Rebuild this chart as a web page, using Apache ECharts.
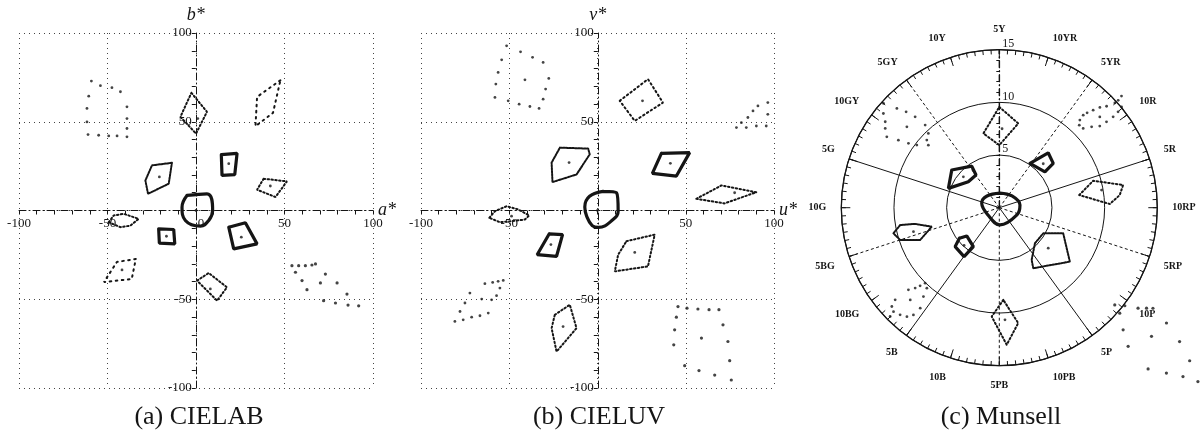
<!DOCTYPE html>
<html><head><meta charset="utf-8">
<script src="https://cdn.jsdelivr.net/npm/echarts@6/dist/echarts.min.js"></script>
<style>html,body{margin:0;padding:0;background:#fff}#c{width:1203px;height:432px}</style>
</head><body><div id="c"></div>
<script>
// ---------- Panel (a) CIELAB : [a*, b*] ----------
const labCenter = [[-5.1,8.5],[6.2,9.4],[9.4,0],[7.2,-5.6],[2.5,-8.8],[-6,-5.6],[-7.9,1.9]];
const labYR = [[14.3,31.5],[23.2,32.2],[21.9,20.2],[14.7,19.8]];
const labGY = [[-13.6,26.9],[-24.9,25.4],[-28.6,16.9],[-27.1,9.4],[-15.4,15.1]];
const labR = [[38.2,17.9],[51.4,16.4],[44.9,7.6],[34.5,11.7]];
const labB = [[-21.1,-10.3],[-12.6,-10.7],[-12,-18.8],[-20.7,-18.4]];
const labP = [[18.5,-9.4],[27.9,-6.9],[34.5,-18.8],[21.3,-21.6]];
const labPB = [[0.6,-39.5],[7.2,-35.2],[17.5,-43.3],[11.9,-50.8]];
const labBG = [[-49.3,-6.6],[-46.5,-2.8],[-40.8,-1.9],[-32.4,-4.7],[-37,-8.5],[-42.7,-9.4]];
const labY = [[-2.6,66.3],[6.2,55.6],[0,43.3],[-8.8,52.8]];
const labYRhigh = [[47.7,73.4],[34.5,64],[33.6,47.5],[43.5,55]];
const labBGhigh = [[-34,-27.3],[-44.7,-29],[-52,-40.3],[-36.3,-38.6]];
const labCentres = [[18.5,26.4],[-20.7,18.9],[42,13.8],[-16.7,-14.5],[25.6,-15],[8.1,-44.2],[1,51.8],[-41.8,-33.5],[0,0]];
const labGYdots = [[-59.1,72.9],[-54,70.3],[-47.5,69.2],[-42.7,66.9],[-60.6,64.4],[-39,58.4],[-61.6,57.5],[-39,51.8],
  [-61.6,49.9],[-39,46.2],[-61,42.8],[-55,42.4],[-49.3,42],[-44.6,42],[-39,41.5]];
const labPdots = [[54.2,-31.1],[58,-31.1],[61.8,-31.1],[65.5,-30.7],[67.5,-30.1],[56.2,-34.8],[59.9,-39.5],[62.7,-44.6],
  [73.1,-35.8],[70.3,-40.8],[79.7,-40.8],[72.1,-50.8],[78.8,-52.1],[85.3,-47.1],[85.9,-53.3],[91.9,-53.7]];

// ---------- Panel (b) CIELUV : [u*, v*] ----------
const luvCenter = [[3.2,10.8],[10.8,10],[11.7,-0.4],[8.8,-5.1],[0.5,-9.5],[-3,-8.5],[-6.2,-3],[-7.2,2],[-4.5,8]];
const luvGY = [[-21.3,35.4],[-5.3,34.9],[-4.4,31.6],[-11.9,20.3],[-25.5,16],[-26,27]];
const luvYR = [[36.2,32.2],[52.2,32.6],[44.7,19.4],[31.1,20.9]];
const luvR = [[56,6.6],[70.2,14.1],[90,10.3],[72,4]];
const luvBG = [[-61.3,-4.1],[-58.1,-0.4],[-51.5,2.4],[-44.9,0.6],[-38.7,-2.8],[-41.1,-5.1],[-48.7,-6],[-55.3,-6.6]];
const luvB = [[-27.4,-13.2],[-19.8,-13.6],[-23.2,-25.8],[-34.2,-24.9]];
const luvP = [[16.4,-17.3],[32.4,-13.6],[28.6,-31.5],[9.8,-34.3],[11.7,-24.9]];
const luvY = [[12.6,61.8],[28.6,74],[37.1,60.8],[21.1,50.5]];
const luvPB = [[-24.2,-58.8],[-15.7,-53.1],[-11.9,-66.3],[-23.2,-79.5],[-26,-66.3]];
const luvCentres = [[-16.1,27],[41.3,26.6],[77.7,10],[-48.7,-3.2],[-26.4,-19.2],[21.1,-23.6],[25.5,61.8],[-19.5,-65.4],[0,0]];
const luvGYdots = [[-51.5,92.8],[-43.6,89.4],[-36.8,86.3],[-30.8,83.4],[-54.3,84.9],[-56.3,77.8],[-57.6,71.2],[-41.1,73.6],
  [-27.6,74.4],[-29.4,68.4],[-58.1,63.7],[-50.6,61.8],[-44.4,59.9],[-38.3,58.6],[-33.1,57.5],[-30.8,62.7]];
const luvRdots = [[96.5,60.8],[90.9,58.9],[88.1,56.1],[85.2,52.4],[81.5,49.5],[78.7,46.7],[84.3,46.7],[90,47.6],[95.6,47.6],[96.5,54.2]];
const luvBGdots = [[-53.4,-39.4],[-56.3,-39.9],[-59.4,-40.5],[-63.8,-41.2],[-55.3,-43.7],[-57.2,-48],[-60,-50.3],[-61.9,-57.8],
  [-66.6,-59.3],[-71.3,-60.1],[-76.1,-61.6],[-80.8,-62.5],[-77.9,-56.9],[-75.1,-52.1],[-72.3,-46.5],[-65.6,-49.9]];
const luvPdots = [[45.6,-54.1],[50.7,-55],[56.9,-55.5],[63.2,-55.9],[68.8,-55.9],[44.7,-60.1],[43.7,-67.2],[43.2,-75.7],
  [71.1,-64.4],[73.9,-73.8],[74.9,-84.6],[75.8,-95.5],[49.4,-87.4],[57.5,-90.2],[66.4,-92.7],[58.9,-71.9]];
const cartTicks = [-100,-50,0,50,100];

// ---------- Panel (c) Munsell : [chroma, direction in degrees, counter-clockwise from 10RP] ----------
const hueLabels = ['5Y','10Y','5GY','10GY','5G','10G','5BG','10BG','5B','10B','5PB','10PB','5P','10P','5RP','10RP','5R','10R','5YR','10YR'];
const solidHueDirs = [18,162,234,306];
const dashedHueDirs = [54,126,198,270,342];
const mCenter = [[1.39,87.3],[1.64,42.7],[1.98,7.4],[1.81,-22.4],[1.64,-87.7],[1.28,-147.1],[1.73,165],[1.61,136.4]];
const mY = [[9.57,90],[8.2,77.3],[5.94,90],[7.21,102.1]];
const mYR = [[5.12,55.3],[6.98,48.3],[6.63,39.4],[5.51,38.2]];
const mGY = [[5.76,141.6],[4.74,123.5],[3.81,125.5],[3.84,140.0],[5.17,159.2]];
const mRP = [[7.68,9.0],[9.27,16.0],[11.95,10.4],[11.5,6.0],[10.5,1.9]];
const mBG = [[10.34,193.6],[9.55,189.9],[8.14,190.9],[6.66,195.7],[8.12,202.2],[9.9,198.0]];
const mB = [[4.77,217.4],[4.09,220.9],[4.44,236.3],[5.72,234.2],[5.59,221.4]];
const mP = [[4.78,-44.9],[4.83,-30.2],[6.53,-21.8],[8.43,-37.4],[6.59,-60.7],[5.83,-58.2]];
const mPB = [[8.76,-87.5],[10.36,-94.0],[13.03,-86.9],[11.1,-80.7]];
const mCentres = [[7.5,88],[5.9,45],[4.5,139.3],[9.85,9.8],[8.46,195.6],[6.03,-39.6],[10.66,-87.1],[4.9,227]];
const mGYdots = [[14.79,138.0],[13.54,135.9],[12.69,134.2],[11.76,132.8],[10.54,131.9],[14.18,140.9],[13.56,143.0],[13.19,145.2],
  [12.62,147.8],[11.53,146.2],[10.57,144.7],[9.83,142.8],[9.41,137.0],[8.98,138.6],[9.75,133.7],[11.66,138.8]];
const mRdots = [[15.71,42.4],[15.21,42.1],[14.81,42.2],[14.02,43.4],[13.48,44.9],[12.85,46.1],[12.27,47.2],[11.86,47.8],
  [11.3,47.4],[10.91,45.9],[10.96,43.4],[11.65,41.2],[12.29,39.1],[13.04,38.7],[13.83,38.6],[14.49,38.9],[15.04,39.5],[12.86,42.1]];
const mBGdots = [[10.05,225.5],[10.56,224.6],[11.05,223.7],[11.63,222.1],[10.28,228.0],[11.09,229.5],[12.14,231.8],[13.04,231.3],
  [13.56,229.7],[13.86,227.2],[14.08,224.5],[13.86,222.6],[13.2,221.5],[12.17,226.0],[14.63,224.9]];
const mPdots = [[14.33,-40.1],[15.2,-41.2],[15.12,-38.0],[16.26,-35.9],[16.92,-34.3],[17.43,-33.2],[19.28,-34.6],[16.51,-44.6],
  [18.92,-40.2],[21.32,-36.6],[17.97,-47.1],[23.19,-38.8],[20.83,-47.3],[22.32,-44.7],[23.69,-42.6],[25.06,-41.2]];
const chromaTicks = [0,5,10,15];
const hueLineLength = 16.2;

// ---------- build ----------
const INK = '#151515';
const SERIF = 'Liberation Serif';
const DOT = [1.5,2.4];
const SPARSE = [1.6,4.5];

function cartAxis(idx, name, vertical, showZero){
  return {
    type:'value', gridIndex:idx, min:cartTicks[0], max:cartTicks[cartTicks.length-1], interval:50,
    position: vertical ? 'left' : 'bottom', offset: vertical ? -176.8 : -177.5,
    name:name, nameLocation:'end', nameGap: vertical ? 9 : 5, nameMoveOverlap:false,
    nameTextStyle:{fontFamily:SERIF, fontStyle:'italic', fontSize:18, color:INK},
    axisLine:{onZero:false, lineStyle:{color:INK, width:1, type:[7,3,1,3]}},
    axisTick:{show:true, length:4, lineStyle:{color:INK}},
    minorTick:{show:true, splitNumber:5, length:4, lineStyle:{color:INK}},
    axisLabel:{fontFamily:SERIF, fontSize:13, color:INK, margin: vertical ? 4 : 7,
      formatter: v => v === 0 ? (showZero ? '{z|0}' : '') : String(v),
      rich:{z:{fontFamily:SERIF, fontSize:13, color:INK, padding:[0,0,0,10]}}},
    splitLine:{show:true, lineStyle:{type:[1,4], color:'#444', width:1}}
  };
}
function cartPoly(pts, idx, bold, dash, smooth){
  return {type:'line', xAxisIndex:idx, yAxisIndex:idx, data:pts.concat([pts[0]]), symbol:'none',
    smooth: smooth || false, silent:true, z:4,
    lineStyle:{color:INK, width: bold ? 3.2 : 2, type: bold ? 'solid' : (dash || DOT), cap:'round'}};
}
function cartDots(pts, idx, size){
  return {type:'scatter', xAxisIndex:idx, yAxisIndex:idx, data:pts, symbolSize:size||2.8, silent:true, z:5,
    itemStyle:{color:INK}};
}
const toAng = d => ((d - 90) % 360 + 360) % 360;
const polarData = pts => pts.map(p => [p[0], toAng(p[1])]);
function polPoly(pts, bold, dash, smooth){
  const d = polarData(pts);
  return {type:'line', coordinateSystem:'polar', polarIndex:0, data:d.concat([d[0]]), symbol:'none', smooth:smooth||false,
    silent:true, z:4, clip:false,
    lineStyle:{color:INK, width: bold ? 3.2 : 2, type: bold ? 'solid' : (dash || DOT), cap:'round'}};
}
function polDots(pts, size){
  return {type:'scatter', coordinateSystem:'polar', polarIndex:0, data:polarData(pts), symbolSize:size||2.8, silent:true, z:5,
    clip:false, itemStyle:{color:INK}};
}
function hueLine(dir, type, width){
  return {type:'line', coordinateSystem:'polar', polarIndex:0, data:[[0,toAng(dir)],[hueLineLength,toAng(dir)]], symbol:'none',
    silent:true, z:2, clip:false, lineStyle:{color:INK, width:width||1, type:type}};
}

const series = [
  cartPoly(labCenter,0,true,null,0.45), cartPoly(labYR,0,true), cartPoly(labGY,0,false,[1.8,1.2]),
  cartPoly(labR,0,false), cartPoly(labB,0,true), cartPoly(labP,0,true), cartPoly(labPB,0,false),
  cartPoly(labBG,0,false), cartPoly(labY,0,false), cartPoly(labYRhigh,0,false,SPARSE), cartPoly(labBGhigh,0,false,SPARSE),
  cartDots(labCentres,0), cartDots(labGYdots,0), cartDots(labPdots,0,3.2),
  cartPoly(luvCenter,1,true,null,0.45), cartPoly(luvGY,1,false,[1.8,1.2]), cartPoly(luvYR,1,true), cartPoly(luvR,1,false),
  cartPoly(luvBG,1,false), cartPoly(luvB,1,true), cartPoly(luvP,1,false), cartPoly(luvY,1,false,[1.5,3]),
  cartPoly(luvPB,1,false), cartDots(luvCentres,1), cartDots(luvGYdots,1), cartDots(luvRdots,1),
  cartDots(luvBGdots,1), cartDots(luvPdots,1,3.2)
];
solidHueDirs.forEach(d => series.push(hueLine(d,'solid',1)));
dashedHueDirs.forEach(d => series.push(hueLine(d,[3,2.5],1)));
series.push(hueLine(90,[7,3,1,3],1.2));
series.push(polPoly(mCenter,true,null,0.4), polPoly(mY,false), polPoly(mYR,true), polPoly(mGY,true),
  polPoly(mRP,false), polPoly(mBG,false,[1.8,1.2]), polPoly(mB,true), polPoly(mP,false,[1.8,1.2]), polPoly(mPB,false),
  polDots(mCentres), polDots(mGYdots), polDots(mRdots), polDots(mBGdots), polDots(mPdots,3.2));

const polarCentre = [999.3,207.7];
const option = {
  animation:false,
  backgroundColor:'#fff',
  grid:[
    {left:19, top:33, width:354, height:355, outerBoundsMode:'none'},
    {left:421, top:33, width:353, height:355, outerBoundsMode:'none'}
  ],
  xAxis:[cartAxis(0,'a*',false,true), cartAxis(1,'u*',false,false)],
  yAxis:[cartAxis(0,'b*',true,false), cartAxis(1,'v*',true,false)],
  polar:[{center:polarCentre, radius:158},{center:polarCentre, radius:158}],
  angleAxis:[
    {polarIndex:0, type:'value', min:0, max:360, interval:18, startAngle:90, clockwise:false,
      axisLine:{lineStyle:{color:INK, width:1.3}},
      axisTick:{show:true, inside:true, length:9, lineStyle:{color:INK}},
      axisLabel:{margin:15, fontFamily:SERIF, fontWeight:'bold', fontSize:10, color:INK,
        formatter: v => v >= 360 ? '' : hueLabels[Math.round(v/18) % 20]},
      splitLine:{show:false}},
    {polarIndex:1, type:'value', min:0, max:360, interval:3, startAngle:90, clockwise:false,
      axisLine:{show:false}, axisLabel:{show:false}, splitLine:{show:false},
      axisTick:{show:true, inside:true, length:4.5, lineStyle:{color:INK}}}
  ],
  radiusAxis:[
    {polarIndex:0, type:'value', min:chromaTicks[0], max:chromaTicks[chromaTicks.length-1], interval:5,
      axisLine:{lineStyle:{color:INK, width:1.2, type:[7,3,1,3]}},
      axisTick:{show:true, length:3, lineStyle:{color:INK}},
      minorTick:{show:true, splitNumber:5, length:3, lineStyle:{color:INK}},
      axisLabel:{fontFamily:SERIF, fontSize:12, color:INK, margin:-3, align:'left', verticalAlign:'bottom',
        formatter: v => v === 0 ? '' : String(v)},
      splitLine:{show:true, lineStyle:{color:INK, width:1}}},
    {polarIndex:1, type:'value', min:0, max:15, show:false, splitLine:{show:false}}
  ],
  graphic:[
    {type:'text', x:199, y:417, style:{text:'(a) CIELAB', font:'26px "Liberation Serif"', fill:INK, align:'center', verticalAlign:'middle'}},
    {type:'text', x:599, y:417, style:{text:'(b) CIELUV', font:'26px "Liberation Serif"', fill:INK, align:'center', verticalAlign:'middle'}},
    {type:'text', x:1001, y:417, style:{text:'(c) Munsell', font:'26px "Liberation Serif"', fill:INK, align:'center', verticalAlign:'middle'}}
  ],
  series:series
};
const chart = echarts.init(document.getElementById('c'));
chart.setOption(option);
</script>
</body></html>
